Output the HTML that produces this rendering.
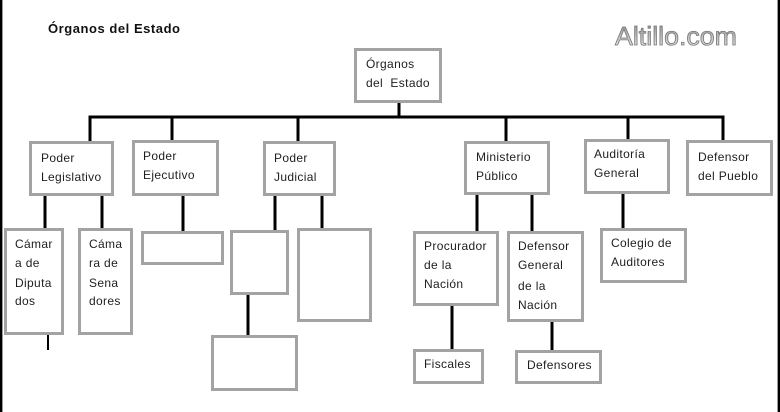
<!DOCTYPE html>
<html>
<head>
<meta charset="utf-8">
<style>
html,body{margin:0;padding:0;background:#fff;}
svg{display:block;}
.t{font-family:"Liberation Sans",sans-serif;font-size:12px;fill:#1e1e1e;letter-spacing:0.35px;}
</style>
</head>
<body>
<svg width="780" height="412" viewBox="0 0 780 412" xmlns="http://www.w3.org/2000/svg">
<defs>
<linearGradient id="lg" x1="0" y1="0" x2="0" y2="1">
<stop offset="0" stop-color="#8a8a8a"/>
<stop offset="1" stop-color="#f2f2f2"/>
</linearGradient>
</defs>
<rect x="0" y="0" width="780" height="412" fill="#fff"/>
<!-- frame -->
<rect x="0" y="0" width="2" height="412" fill="#000"/>
<rect x="2" y="0" width="1" height="412" fill="#999"/>
<rect x="778" y="0" width="2" height="412" fill="#000"/>
<rect x="777" y="0" width="1" height="412" fill="#999"/>

<!-- title -->
<text x="48" y="33" font-family="Liberation Sans, sans-serif" font-size="13" font-weight="bold" fill="#111" textLength="132" lengthAdjust="spacing">Órganos del Estado</text>

<!-- logo -->
<text x="615" y="45" font-family="Liberation Sans, sans-serif" font-size="26" fill="url(#lg)" stroke="#777" stroke-width="0.8" textLength="122" lengthAdjust="spacingAndGlyphs">Altillo.com</text>

<!-- connectors -->
<g stroke="#000" stroke-width="3" fill="none">
<line x1="399" y1="103" x2="399" y2="118"/>
<line x1="88.5" y1="117" x2="724.5" y2="117"/>
<line x1="90" y1="117" x2="90" y2="141"/>
<line x1="172" y1="117" x2="172" y2="140"/>
<line x1="298" y1="117" x2="298" y2="141"/>
<line x1="506" y1="117" x2="506" y2="141"/>
<line x1="628" y1="117" x2="628" y2="139"/>
<line x1="723" y1="117" x2="723" y2="140"/>

<line x1="45" y1="196" x2="45" y2="228"/>
<line x1="102" y1="196" x2="102" y2="228"/>
<line x1="183" y1="196" x2="183" y2="231"/>
<line x1="275" y1="196" x2="275" y2="230"/>
<line x1="322" y1="196" x2="322" y2="228"/>
<line x1="477" y1="195" x2="477" y2="231"/>
<line x1="532" y1="195" x2="532" y2="231"/>
<line x1="623" y1="194" x2="623" y2="228"/>

<line x1="248" y1="295" x2="248" y2="335"/>
<line x1="452" y1="306" x2="452" y2="349"/>
<line x1="552" y1="322" x2="552" y2="350"/>
<line x1="48" y1="335" x2="48" y2="350" stroke-width="2"/>
</g>

<!-- boxes -->
<g stroke="#a3a3a3" stroke-width="3" fill="#fff">
<rect x="355.5" y="49.5" width="85" height="52"/>
<rect x="30.5" y="142.5" width="82" height="52"/>
<rect x="133.5" y="141.5" width="84" height="53"/>
<rect x="264.5" y="142.5" width="70" height="52"/>
<rect x="465.5" y="142.5" width="83" height="51"/>
<rect x="585.5" y="140.5" width="83" height="52"/>
<rect x="687.5" y="141.5" width="84" height="53"/>

<rect x="5.5" y="229.5" width="57" height="104"/>
<rect x="79.5" y="229.5" width="52" height="104"/>
<rect x="142.5" y="232.5" width="80" height="31"/>
<rect x="231.5" y="231.5" width="56" height="62"/>
<rect x="212.5" y="336.5" width="84" height="53"/>
<rect x="298.5" y="229.5" width="72" height="91"/>
<rect x="414.5" y="232.5" width="83" height="72"/>
<rect x="508.5" y="232.5" width="74" height="88"/>
<rect x="601.5" y="229.5" width="84" height="52"/>
<rect x="414.5" y="350.5" width="68" height="32"/>
<rect x="516.5" y="351.5" width="84" height="31"/>
</g>

<!-- labels -->
<g class="t">
<text class="t" x="366" y="68">Órganos</text>
<text class="t" x="366" y="87" xml:space="preserve">del  Estado</text>

<text class="t" x="41" y="162">Poder</text>
<text class="t" x="41" y="181">Legislativo</text>

<text class="t" x="143" y="160">Poder</text>
<text class="t" x="143" y="179">Ejecutivo</text>

<text class="t" x="274" y="162">Poder</text>
<text class="t" x="274" y="181">Judicial</text>

<text class="t" x="476" y="161">Ministerio</text>
<text class="t" x="476" y="180">Público</text>

<text class="t" x="594" y="158">Auditoría</text>
<text class="t" x="594" y="177">General</text>

<text class="t" x="698" y="161">Defensor</text>
<text class="t" x="698" y="180">del Pueblo</text>

<text class="t" x="15" y="248">Cámar</text>
<text class="t" x="15" y="267">a de</text>
<text class="t" x="15" y="287">Diputa</text>
<text class="t" x="15" y="305">dos</text>

<text class="t" x="89" y="248">Cáma</text>
<text class="t" x="89" y="267">ra de</text>
<text class="t" x="89" y="287">Sena</text>
<text class="t" x="89" y="305">dores</text>

<text class="t" x="424" y="250">Procurador</text>
<text class="t" x="424" y="269">de la</text>
<text class="t" x="424" y="288">Nación</text>

<text class="t" x="518" y="250">Defensor</text>
<text class="t" x="518" y="269">General</text>
<text class="t" x="518" y="290">de la</text>
<text class="t" x="518" y="309">Nación</text>

<text class="t" x="611" y="247">Colegio de</text>
<text class="t" x="611" y="266">Auditores</text>

<text class="t" x="424" y="368">Fiscales</text>
<text class="t" x="527" y="369">Defensores</text>
</g>
</svg>
</body>
</html>
